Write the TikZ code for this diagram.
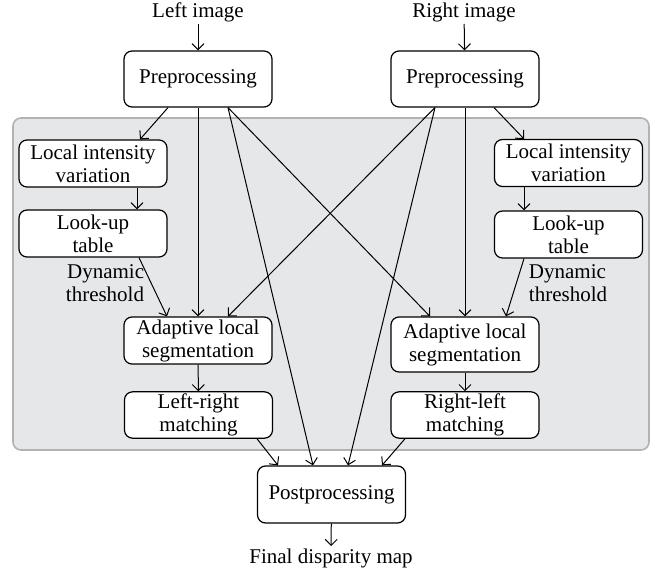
\documentclass[tikz,border=0pt]{standalone}
\usepackage{fontspec}
\setmainfont{Liberation Serif}
\usetikzlibrary{arrows.meta, positioning, calc}
\definecolor{panelgray}{RGB}{230, 231, 233}
\definecolor{edgegray}{RGB}{178, 178, 178}

\begin{document}
\begin{tikzpicture}[x=0.5pt, y=-0.5pt,
  box/.style={draw, rounded corners=4pt, fill=white, line width=0.6pt, minimum width=74pt, minimum height=23.5pt, align=center, inner sep=1pt, font=\fontsize{10.5}{11.5}\selectfont},
  lbl/.style={font=\fontsize{10.5}{11.5}\selectfont, inner sep=1pt},
  flow/.style={-{Straight Barb[length=3pt, width=6pt]}, line width=0.5pt}]
  \useasboundingbox (0,0) rectangle (654,571);

  % Shaded matching stage
  \draw[edgegray, fill=panelgray, line width=0.8pt, rounded corners=4pt] (13,118) rectangle (649,450);

  % Inputs and preprocessing
  \node[lbl] (limg) at (198,12) {Left image};
  \node[lbl] (rimg) at (464,12) {Right image};
  \node[box, minimum height=28pt] (lpre) at (198,79) {Preprocessing};
  \node[box, minimum height=28pt] (rpre) at (465,79) {Preprocessing};

  % Left branch
  \node[box] (lliv) at (93,163.5) {Local intensity\\variation};
  \node[box] (llut) at (93,233.5) {Look-up\\table};
  \node[lbl, align=right] (lthr) at (105,283) {Dynamic\\threshold};
  \node[box] (lals) at (198,340.5) {Adaptive local\\segmentation};
  \node[box, minimum height=23pt] (lrm) at (198.5,415) {Left-right\\matching};

  % Right branch
  \node[box] (rliv) at (568.5,163) {Local intensity\\variation};
  \node[box] (rlut) at (568.5,234.5) {Look-up\\table};
  \node[lbl, align=left] (rthr) at (568,283) {Dynamic\\threshold};
  \node[box, minimum height=27.5pt] (rals) at (465,344.5) {Adaptive local\\segmentation};
  \node[box, minimum height=23pt] (rlm) at (465,415) {Right-left\\matching};

  % Output
  \node[box, minimum height=28.5pt] (post) at (331.5,494.5) {Postprocessing};
  \node[lbl] (final) at (331,558) {Final disparity map};

  % Connectors
  \draw[flow] (limg) -- (lpre);
  \draw[flow] (rimg) -- (rpre);
  \draw[flow] ($(lpre.south)+(-30,0)$) -- ($(lliv.north)+(47,0)$);
  \draw[flow] (lpre.south) -- (lals.north);
  \draw[flow] ($(lpre.south)+(30,0)$) -- ($(post.north)+(-18.5,0)$);
  \draw[flow] ($(lpre.south)+(30,0)$) -- ($(rals.north)+(-35,0)$);
  \draw[flow] ($(rpre.south)+(29,0)$) -- ($(rliv.north)+(-44.5,0)$);
  \draw[flow] (rpre.south) -- (rals.north);
  \draw[flow] ($(rpre.south)+(-30,0)$) -- ($(post.north)+(16.5,0)$);
  \draw[flow] ($(rpre.south)+(-30,0)$) -- ($(lals.north)+(30,0)$);
  \draw[flow] ($(lliv.south)+(44,0)$) -- ($(llut.north)+(44,0)$);
  \draw[flow] ($(rliv.south)+(-44.5,0)$) -- ($(rlut.north)+(-44.5,0)$);
  \draw[flow] ($(llut.south)+(46,0)$) -- ($(lals.north)+(-31,0)$);
  \draw[flow] ($(rlut.south)+(-44.5,0)$) -- ($(rals.north)+(41,0)$);
  \draw[flow] (lals) -- (lrm);
  \draw[flow] (rals) -- (rlm);
  \draw[flow] ($(lrm.south)+(58.5,0)$) -- ($(post.north)+(-53.5,0)$);
  \draw[flow] ($(rlm.south)+(-60,0)$) -- ($(post.north)+(50.5,0)$);
  \draw[flow] (post) -- (final);
\end{tikzpicture}
\end{document}
